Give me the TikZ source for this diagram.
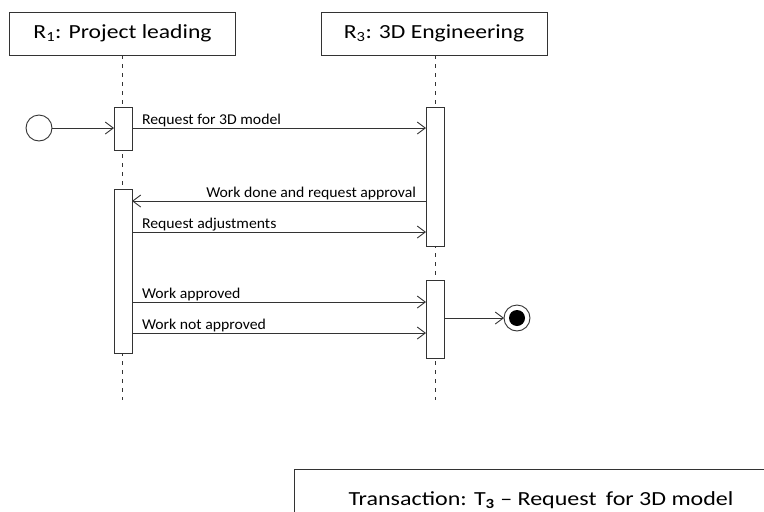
\documentclass[tikz,border=0pt]{standalone}
\usepackage{fontspec}
\setmainfont{Carlito}
\usetikzlibrary{arrows.meta}
\newcommand{\hstretch}[2]{\scalebox{#1}[1]{#2}}
\begin{document}
\begin{tikzpicture}[x=1pt,y=-1pt,
  every node/.style={inner sep=0pt, outer sep=0pt},
  ln/.style={draw=black!80, line width=0.9pt},
  header/.style={ln, fill=white, minimum width=226pt, minimum height=43pt, font=\fontsize{20}{24}\selectfont},
  actbox/.style={ln, fill=white, minimum width=18pt},
  lifeline/.style={ln, dash pattern=on 4pt off 5pt},
  msg/.style={ln, -{Straight Barb[length=8pt,width=12pt,line width=0.9pt]}},
  lblr/.style={font=\fontsize{15}{17}\selectfont, pos=0, anchor=base west, xshift=10pt, yshift=3.5pt},
  lbll/.style={font=\fontsize{15}{17}\selectfont, pos=0, anchor=base east, xshift=-10pt, yshift=3.5pt},
  startst/.style={ln, circle, minimum size=26pt},
  endst/.style={ln, circle, minimum size=26pt, fill=white},
  ]
\useasboundingbox (0,0) rectangle (764,512);
% headers
\node[header] (r1) at (122.5,33.5) {\hstretch{1.18}{R\textsubscript{1}: Project leading}};
\node[header] (r3) at (434,33.5) {\hstretch{1.18}{R\textsubscript{3}: 3D Engineering}};
% lifelines
\coordinate (l1end) at (122.5,400);
\coordinate (l3end) at (435,400);
\draw[lifeline] (r1.south) -- (l1end);
\draw[lifeline] (r3.south -| l3end) -- (l3end);
% activation boxes
\node[actbox, minimum height=43pt] (a1) at (123,128.5) {};
\node[actbox, minimum height=139pt] (b1) at (435,176.5) {};
\node[actbox, minimum height=164pt] (a2) at (123,271) {};
\node[actbox, minimum height=78pt] (b2) at (435,319) {};
% states
\node[startst] (start) at (39,128) {};
\node[endst] (stop) at (517,318) {};
\fill[black] (stop.center) circle (8pt);
% messages
\draw[msg] (start.east) -- (a1.west |- start.east);
\draw[msg] (a1.east |- 0,128) -- node[lblr] {\hstretch{1.05}{Request for 3D model}} (b1.west |- 0,128);
\draw[msg] (b1.west |- 0,201) -- node[lbll] {\hstretch{1.05}{Work done and request approval}} (a2.east |- 0,201);
\draw[msg] (a2.east |- 0,232) -- node[lblr] {\hstretch{1.05}{Request adjustments}} (b1.west |- 0,232);
\draw[msg] (a2.east |- 0,302) -- node[lblr] {\hstretch{1.05}{Work approved}} (b2.west |- 0,302);
\draw[msg] (a2.east |- 0,333) -- node[lblr] {\hstretch{1.05}{Work not approved}} (b2.west |- 0,333);
\draw[msg] (b2.east |- stop.west) -- (stop.west);
% transaction box
\node[ln, anchor=north west, minimum width=480pt, minimum height=62pt] (tx) at (294,469) {};
\node[font=\fontsize{20}{24}\selectfont] (txt) at (541,500) {\hstretch{1.2}{Transaction: T\textsubscript{\bfseries 3} -- Request\, for 3D model}};
\end{tikzpicture}
\end{document}
